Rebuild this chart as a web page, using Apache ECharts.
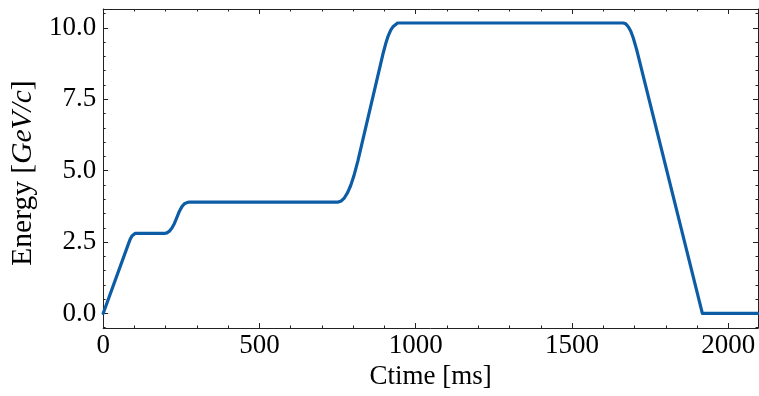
<!DOCTYPE html>
<html>
<head>
<meta charset="utf-8">
<script src="https://cdn.jsdelivr.net/npm/echarts@6/dist/echarts.min.js"></script>
<style>
html,body{margin:0;padding:0;background:#fff;}
#c{width:759px;height:396px;}
</style>
</head>
<body>
<div id="c"></div>
<script>
// Data (time in ms, energy in GeV/c)
var times = [0, 6, 82, 87, 92, 97, 102,
  196, 204, 212, 220, 228, 236, 244, 252, 260, 268, 276,
  752, 762, 772, 782, 792, 802, 815, 896, 904, 912, 920, 928, 934, 942,
  1664, 1672, 1680, 1688, 1696, 1707, 1917, 2095];
var energies = [0, 0, 2.47, 2.61, 2.71, 2.77, 2.8,
  2.8, 2.82, 2.88, 2.99, 3.15, 3.36, 3.58, 3.74, 3.84, 3.88, 3.9,
  3.9, 3.94, 4.05, 4.23, 4.48, 4.81, 5.34, 9.12, 9.45, 9.72, 9.92, 10.05, 10.12, 10.17,
  10.17, 10.14, 10.04, 9.88, 9.645, 9.23, 0, 0];

var xMajor = [0, 500, 1000, 1500, 2000];
var xMinor = [100, 200, 300, 400, 600, 700, 800, 900, 1100, 1200, 1300, 1400, 1600, 1700, 1800, 1900, 2000];
var yMajor = [0, 2.5, 5, 7.5, 10];
var yMinor = [-0.5, 0.5, 1, 1.5, 2, 3, 3.5, 4, 4.5, 5.5, 6, 6.5, 7, 8, 8.5, 9, 9.5, 10.5];

var xMin = 0, xMax = 2095, yMin = -0.51, yMax = 10.66;
var FONT = 'Liberation Serif';

var pts = times.map(function (t, i) { return [t, energies[i]]; });

function xAx(pos, vals, len, labels, line, name) {
  return {
    type: 'value', position: pos, min: xMin, max: xMax,
    name: name || '', nameLocation: 'middle', nameGap: 33,
    nameTextStyle: {fontFamily: FONT, fontSize: 27, color: '#000'},
    axisLine: {show: line, onZero: false, lineStyle: {color: '#222', width: 1}},
    axisTick: {show: true, inside: true, length: len, customValues: vals, lineStyle: {color: '#222', width: 1}},
    axisLabel: {show: labels, customValues: vals, fontFamily: FONT, fontSize: 27, color: '#000', margin: 4,
      formatter: function (v) { return String(v); }},
    splitLine: {show: false}
  };
}
function yAx(pos, vals, len, labels, line, name) {
  return {
    type: 'value', position: pos, min: yMin, max: yMax,
    name: name || '', nameLocation: 'middle', nameGap: 48,
    nameTextStyle: {fontFamily: FONT, fontSize: 29.5, color: '#000', padding: [0, 9, 0, 0],
      rich: {n: {fontFamily: FONT, fontSize: 29.5, color: '#000'},
             i: {fontFamily: FONT, fontSize: 29.5, color: '#000', fontStyle: 'italic'}}},
    axisLine: {show: line, onZero: false, lineStyle: {color: '#222', width: 1}},
    axisTick: {show: true, inside: true, length: len, customValues: vals, lineStyle: {color: '#222', width: 1}},
    axisLabel: {show: labels, customValues: vals, fontFamily: FONT, fontSize: 27, color: '#000', margin: 7,
      formatter: function (v) { return v.toFixed(1); }},
    splitLine: {show: false}
  };
}

var chart = echarts.init(document.getElementById('c'), null, {renderer: 'canvas'});
chart.setOption({
  animation: false,
  backgroundColor: '#fff',
  grid: {left: 103, top: 9, right: 1, bottom: 68, containLabel: false},
  xAxis: [
    xAx('bottom', xMajor, 5, true, true, 'Ctime [ms]'),
    xAx('bottom', xMinor, 2.5, false, false),
    xAx('top', xMajor, 5, false, true),
    xAx('top', xMinor, 2.5, false, false)
  ],
  yAxis: [
    yAx('left', yMajor, 5, true, true, '{n|Energy [}{i|GeV/c}{n|]}'),
    yAx('left', yMinor, 2.5, false, false),
    yAx('right', yMajor, 5, false, true),
    yAx('right', yMinor, 2.5, false, false)
  ],
  series: [{
    type: 'line', xAxisIndex: 0, yAxisIndex: 0, data: pts,
    showSymbol: false, smooth: false,
    lineStyle: {color: '#0C5DA5', width: 3.2, join: 'round', cap: 'round'}
  }]
});
</script>
</body>
</html>
